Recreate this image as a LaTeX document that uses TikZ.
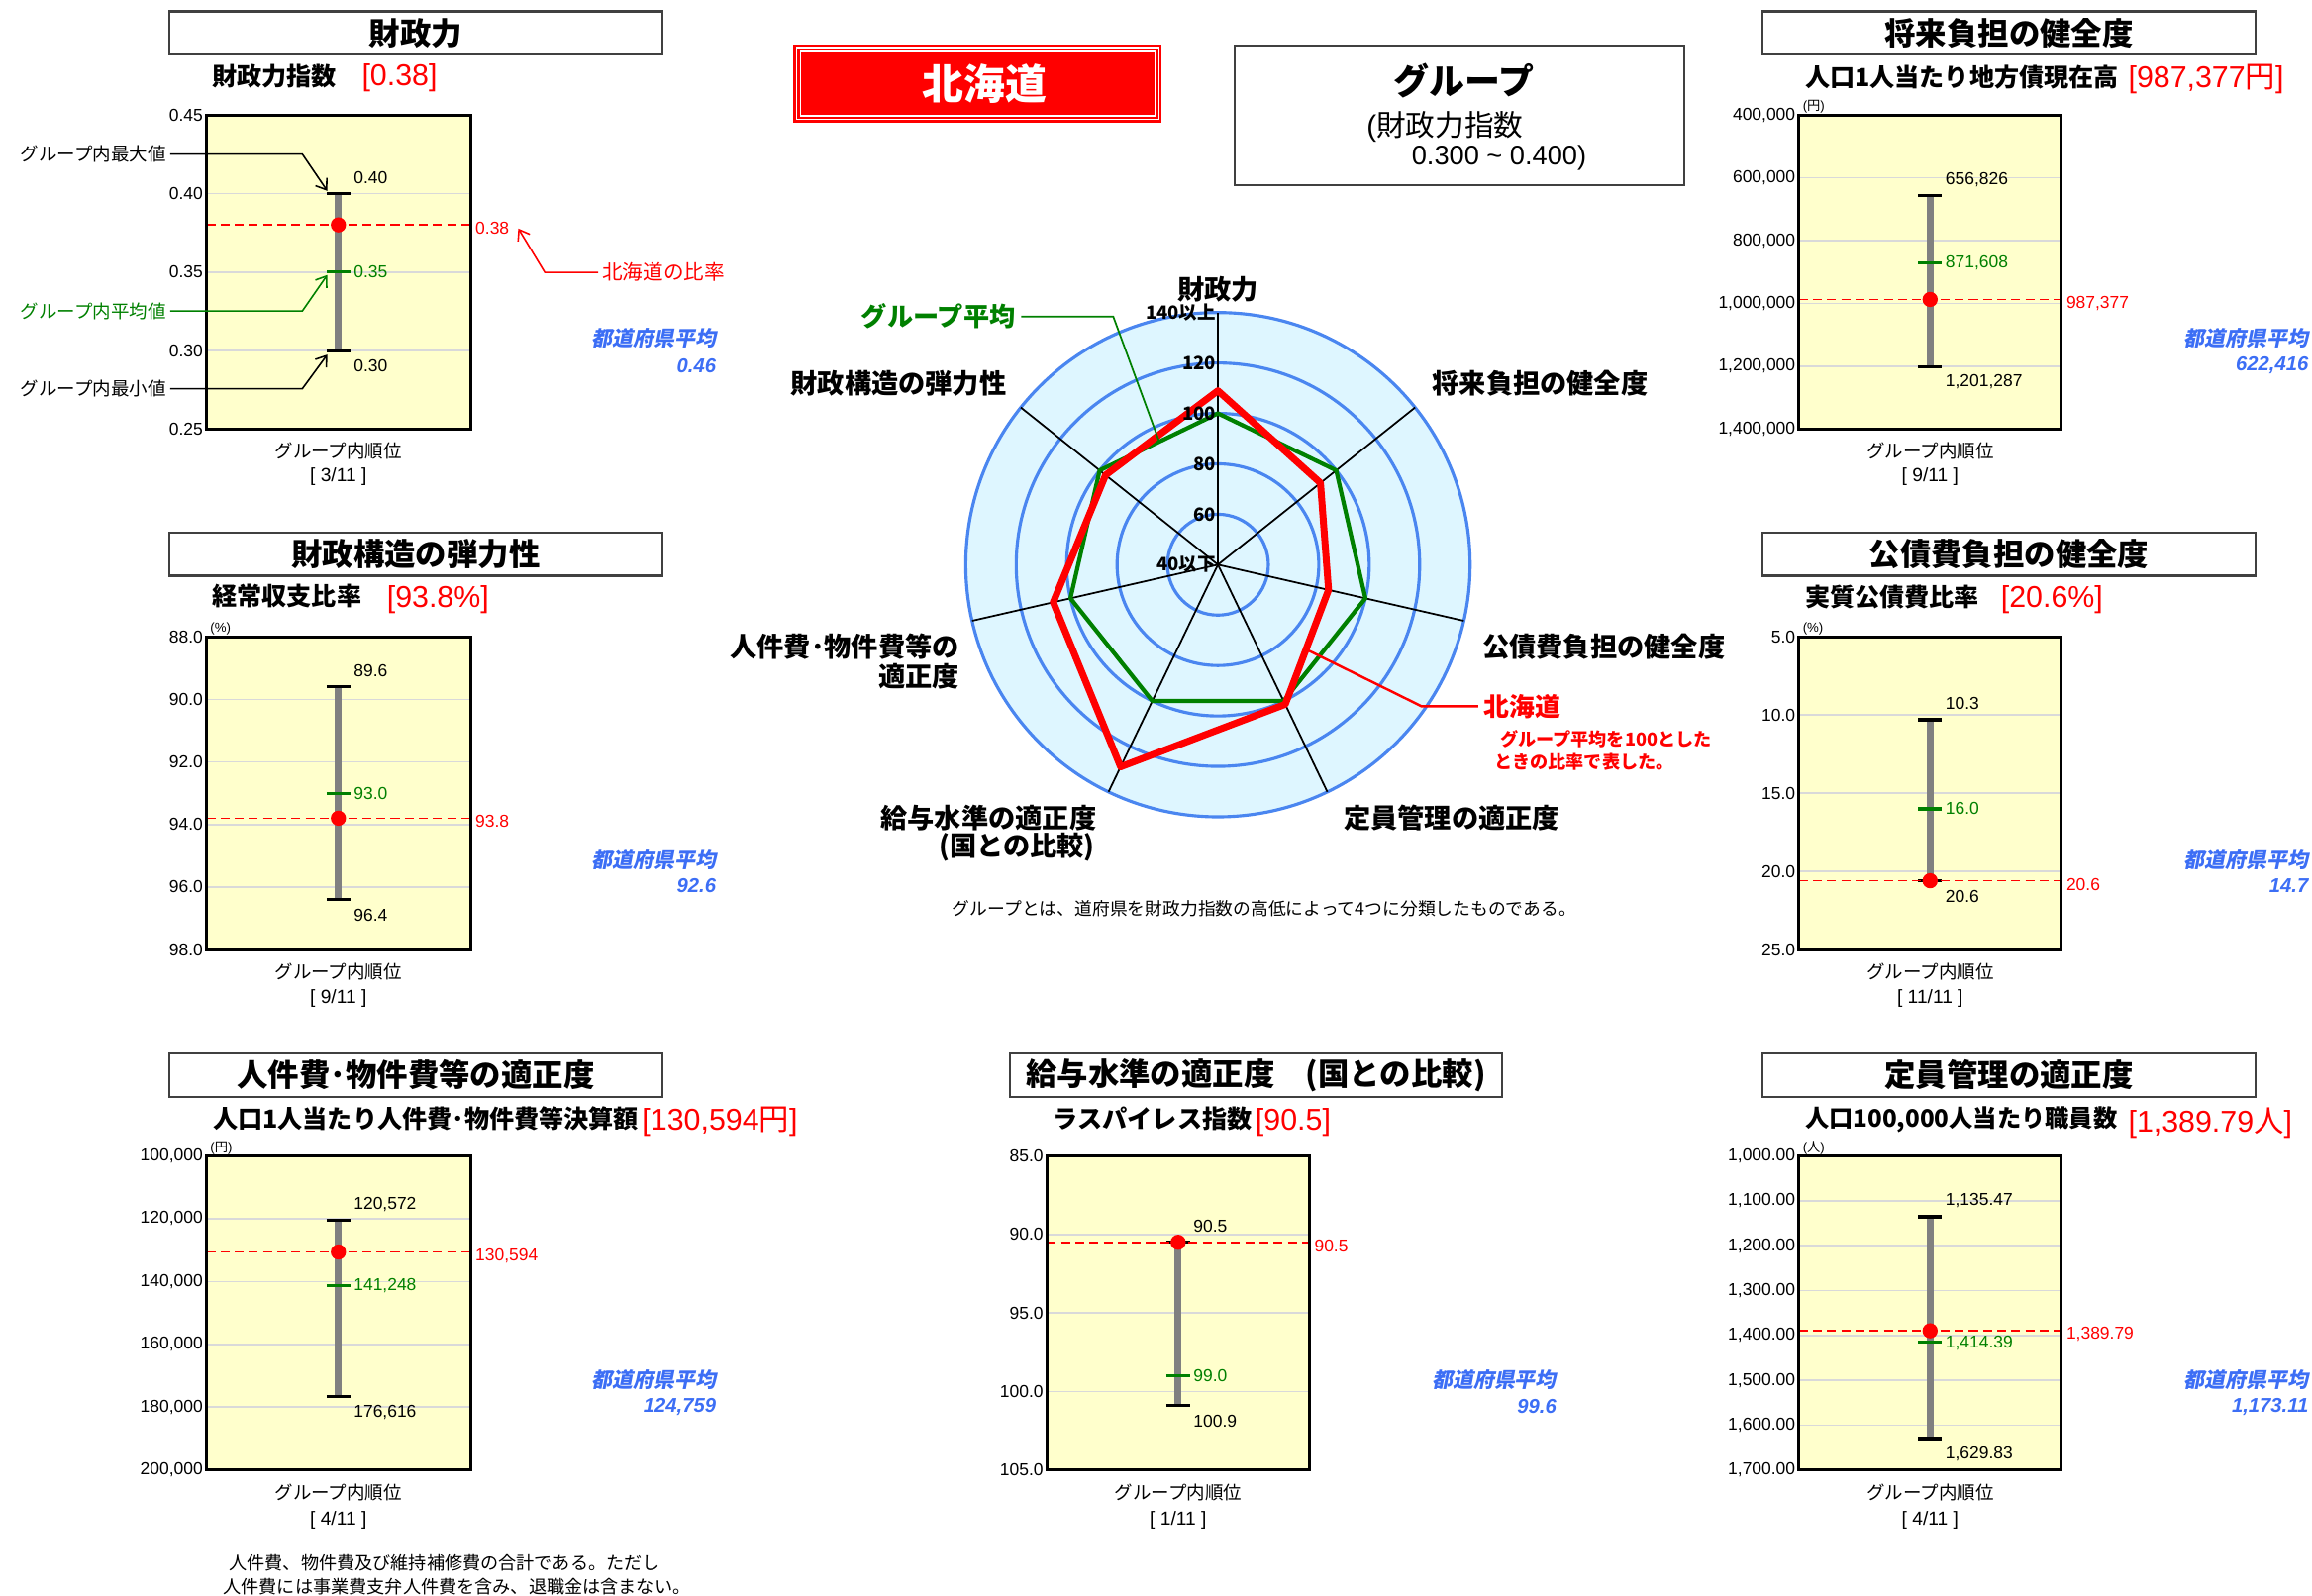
\documentclass[tikz,border=0pt]{standalone}
\usepackage{fontspec}
\setmainfont{Liberation Sans}
\newfontfamily\jp{Noto Sans CJK JP}
\newfontfamily\jpsl{Noto Sans CJK JP}[FakeSlant=0.2]
\usetikzlibrary{arrows.meta}
\definecolor{plotbg}{RGB}{255,255,204}
\definecolor{gridc}{RGB}{217,217,217}
\definecolor{barc}{RGB}{128,128,128}
\definecolor{avgc}{RGB}{0,128,0}
\definecolor{prefc}{RGB}{60,110,245}
\definecolor{radbg}{RGB}{222,246,255}
\definecolor{radc}{RGB}{74,134,240}
\begin{document}
\begin{tikzpicture}[x=0.015cm, y=-0.015cm,
    ttl/.style={draw=black!75, line width=0.6pt, minimum width=5.01cm, minimum height=0.44cm, inner sep=0pt, font=\jp\bfseries\fontsize{9}{10}\selectfont},
    sub/.style={anchor=west, inner sep=0pt, font=\jp\bfseries\fontsize{7.2}{8}\selectfont},
    val/.style={anchor=west, inner sep=0pt, text=red, font=\fontsize{8.7}{10}\selectfont},
    tick/.style={anchor=east, inner sep=0pt, font=\fontsize{5}{6}\selectfont},
    lab/.style={anchor=west, inner sep=0pt, font=\fontsize{5}{6}\selectfont},
    unit/.style={anchor=south west, inner sep=0.3pt, font=\fontsize{3.8}{4}\selectfont},
    pref/.style={anchor=east, inner sep=0pt, text=prefc, font=\jpsl\bfseries\fontsize{6}{7}\selectfont},
    prefn/.style={anchor=east, inner sep=0pt, text=prefc, font=\bfseries\itshape\fontsize{5.8}{7}\selectfont},
    rank/.style={inner sep=0pt, font=\jp\fontsize{5.3}{6}\selectfont},
    rankn/.style={inner sep=0pt, font=\fontsize{5.5}{6}\selectfont},
    note/.style={inner sep=0pt, font=\jp\fontsize{5.3}{6}\selectfont},
    gl/.style={draw=gridc, line width=0.45pt},
    frame/.style={draw=black, line width=0.85pt},
    bar/.style={draw=barc, line width=2pt},
    capl/.style={draw=black, line width=0.95pt},
    avgt/.style={draw=avgc, line width=0.95pt},
    rline/.style={draw=red, line width=0.45pt, dash pattern=on 2.6pt off 1.5pt},
    ptr/.style={line width=0.45pt, -{Straight Barb[length=2.8pt,width=4pt]}},
    radax/.style={draw=black, line width=0.5pt},
    radcirc/.style={draw=radc, line width=0.9pt},
    avgpoly/.style={draw=avgc, line width=1.2pt, line join=round},
    hokpoly/.style={draw=red, line width=2pt, line join=round},
    rlab/.style={inner sep=0pt, font=\jp\bfseries\fontsize{7.8}{9}\selectfont},
    rscale/.style={anchor=east, inner sep=0pt, font=\jp\bfseries\fontsize{5.3}{6}\selectfont}
  ]
  \useasboundingbox (0,0) rectangle (1568,1082);

  % ---- 財政力 ----
  \node[ttl] (t1) at (282,22.4) {財政力};
  \node[sub] (s1) at (143.5,52) {財政力指数};
  \node[val] (v1) at (245,52.5) {[0.38]};
  \fill[plotbg] (140,78) rectangle (319,291);
  \foreach \t [count=\i from 0] in {0.45,0.40,0.35,0.30,0.25} {
    \pgfmathsetmacro\yy{78+53.25*\i}
    \draw[gl] (140,\yy) -- (319,\yy);
    \node[tick] (k1\i) at (138,\yy) {\t};
  }
  \coordinate (hi1) at (229.5,131.25);
  \coordinate (lo1) at (229.5,237.75);
  \draw[bar] (hi1) -- (lo1);
  \draw[capl] (221.5,131.25) -- (237.5,131.25);
  \draw[capl] (221.5,237.75) -- (237.5,237.75);
  \draw[avgt] (221.5,184.5) -- (237.5,184.5);
  \draw[rline] (140,152.55) -- (319,152.55);
  \fill[red] (229.5,152.55) circle[radius=2.2pt];
  \draw[frame] (140,78) rectangle (319,291);
  \node[lab] (m1) at (239.5,120.3) {0.40};
  \node[lab, text=avgc] (a1) at (239.5,184.5) {0.35};
  \node[lab] (n1) at (239.5,248.3) {0.30};
  \node[lab, text=red] (r1) at (322,154.5) {0.38};
  \node[pref] (p1) at (486,229.5) {都道府県平均};
  \node[prefn] (q1) at (486,248) {0.46};
  \node[rank] (g1) at (229.5,305.6) {グループ内順位};
  \node[rankn] (o1) at (229.5,323.5) {[ 3/11 ]};
  % 見方
  \node[note, anchor=east] (x1) at (113,104.5) {グループ内最大値};
  \node[note, anchor=east, text=avgc] (x2) at (113,211) {グループ内平均値};
  \node[note, anchor=east] (x3) at (113,263.7) {グループ内最小値};
  \node[note, anchor=west, text=red, font=\jp\fontsize{5.9}{7}\selectfont] (x4) at (408,184.7) {北海道の比率};
  \coordinate (x1b) at (205,104.5);
  \coordinate (x1c) at (222,129.5);
  \coordinate (x2b) at (205,211);
  \coordinate (x2c) at (222,186.5);
  \coordinate (x3b) at (205,263.7);
  \coordinate (x3c) at (222,240.5);
  \coordinate (x4b) at (369.5,184.7);
  \coordinate (x4c) at (351.5,155);
  \draw[ptr] ([xshift=1pt]x1.east) -- (x1b) -- (x1c);
  \draw[ptr, avgc] ([xshift=1pt]x2.east) -- (x2b) -- (x2c);
  \draw[ptr] ([xshift=1pt]x3.east) -- (x3b) -- (x3c);
  \draw[ptr, red] ([xshift=-1pt]x4.west) -- (x4b) -- (x4c);

  % ---- 財政構造の弾力性 ----
  \node[ttl] (t2) at (282,375.8) {財政構造の弾力性};
  \node[sub] (s2) at (143.5,404.5) {経常収支比率};
  \node[val] (v2) at (262,406.5) {[93.8\%]};
  \fill[plotbg] (140,432) rectangle (319,644);
  \foreach \t [count=\i from 0] in {88.0,90.0,92.0,94.0,96.0,98.0} {
    \pgfmathsetmacro\yy{432+42.4*\i}
    \draw[gl] (140,\yy) -- (319,\yy);
    \node[tick] (k2\i) at (138,\yy) {\t};
  }
  \coordinate (hi2) at (229.5,465.92);
  \coordinate (lo2) at (229.5,610.08);
  \draw[bar] (hi2) -- (lo2);
  \draw[capl] (221.5,465.92) -- (237.5,465.92);
  \draw[capl] (221.5,610.08) -- (237.5,610.08);
  \draw[avgt] (221.5,538) -- (237.5,538);
  \draw[rline] (140,554.96) -- (319,554.96);
  \fill[red] (229.5,554.96) circle[radius=2.2pt];
  \draw[frame] (140,432) rectangle (319,644);
  \node[unit] (u2) at (141.5,432) {(\%)};
  \node[lab] (m2) at (239.5,455) {89.6};
  \node[lab, text=avgc] (a2) at (239.5,538) {93.0};
  \node[lab] (n2) at (239.5,620.6) {96.4};
  \node[lab, text=red] (r2) at (322,557.2) {93.8};
  \node[pref] (p2) at (486,583.2) {都道府県平均};
  \node[prefn] (q2) at (486,601) {92.6};
  \node[rank] (g2) at (229.5,659.3) {グループ内順位};
  \node[rankn] (o2) at (229.5,677.2) {[ 9/11 ]};

  % ---- 人件費・物件費等の適正度 ----
  \node[ttl] (t3) at (282,729.2) {人件費･物件費等の適正度};
  \node[sub] (s3) at (144,759) {人口1人当たり人件費･物件費等決算額};
  \node[val] (v3) at (435,761) {[130,594{\jp 円}]};
  \fill[plotbg] (140,784) rectangle (319,997);
  \foreach \t [count=\i from 0] in {{100,000},{120,000},{140,000},{160,000},{180,000},{200,000}} {
    \pgfmathsetmacro\yy{784+42.6*\i}
    \draw[gl] (140,\yy) -- (319,\yy);
    \node[tick] (k3\i) at (138,\yy) {\t};
  }
  \coordinate (hi3) at (229.5,827.82);
  \coordinate (lo3) at (229.5,947.19);
  \draw[bar] (hi3) -- (lo3);
  \draw[capl] (221.5,827.82) -- (237.5,827.82);
  \draw[capl] (221.5,947.19) -- (237.5,947.19);
  \draw[avgt] (221.5,871.86) -- (237.5,871.86);
  \draw[rline] (140,849.17) -- (319,849.17);
  \fill[red] (229.5,849.17) circle[radius=2.2pt];
  \draw[frame] (140,784) rectangle (319,997);
  \node[unit] (u3) at (141.5,784) {({\jp 円})};
  \node[lab] (m3) at (239.5,816.8) {120,572};
  \node[lab, text=avgc] (a3) at (239.5,871.9) {141,248};
  \node[lab] (n3) at (239.5,957.7) {176,616};
  \node[lab, text=red] (r3) at (322,851.5) {130,594};
  \node[pref] (p3) at (486,936) {都道府県平均};
  \node[prefn] (q3) at (486,954) {124,759};
  \node[rank] (g3) at (229.5,1012) {グループ内順位};
  \node[rankn] (o3) at (229.5,1031) {[ 4/11 ]};
  \node[note, anchor=west, font=\jp\fontsize{5.2}{6}\selectfont] (f1) at (155,1060) {人件費、物件費及び維持補修費の合計である。ただし};
  \node[note, anchor=west, font=\jp\fontsize{5.2}{6}\selectfont] (f2) at (151,1076) {人件費には事業費支弁人件費を含み、退職金は含まない。};

  % ---- 給与水準の適正度 ----
  \node[ttl] (t4) at (851.8,729.2) {給与水準の適正度　(国との比較)};
  \node[sub] (s4) at (714,759) {ラスパイレス指数};
  \node[val] (v4) at (851,761) {[90.5]};
  \fill[plotbg] (710,784) rectangle (888,997);
  \foreach \t [count=\i from 0] in {85.0,90.0,95.0,100.0,105.0} {
    \pgfmathsetmacro\yy{784+53.25*\i}
    \draw[gl] (710,\yy) -- (888,\yy);
    \node[tick] (k4\i) at (708,\yy) {\t};
  }
  \coordinate (hi4) at (799,842.58);
  \coordinate (lo4) at (799,953.34);
  \draw[bar] (hi4) -- (lo4);
  \draw[capl] (791,842.58) -- (807,842.58);
  \draw[capl] (791,953.34) -- (807,953.34);
  \draw[avgt] (791,933.1) -- (807,933.1);
  \draw[rline] (710,842.58) -- (888,842.58);
  \fill[red] (799,842.58) circle[radius=2.2pt];
  \draw[frame] (710,784) rectangle (888,997);
  \node[lab] (m4) at (809,831.6) {90.5};
  \node[lab, text=avgc] (a4) at (809,933.1) {99.0};
  \node[lab] (n4) at (809,963.8) {100.9};
  \node[lab, text=red] (r4) at (891,845.3) {90.5};
  \node[pref] (p4) at (1056,936) {都道府県平均};
  \node[prefn] (q4) at (1056,954) {99.6};
  \node[rank] (g4) at (799,1012) {グループ内順位};
  \node[rankn] (o4) at (799,1031) {[ 1/11 ]};

  % ---- 将来負担の健全度 ----
  \node[ttl] (t5) at (1362.5,22.4) {将来負担の健全度};
  \node[sub] (s5) at (1223.7,52.5) {人口1人当たり地方債現在高};
  \node[val] (v5) at (1443,53.5) {[987,377{\jp 円}]};
  \fill[plotbg] (1220,78) rectangle (1398,291);
  \foreach \t [count=\i from 0] in {{400,000},{600,000},{800,000},{1,000,000},{1,200,000},{1,400,000}} {
    \pgfmathsetmacro\yy{78+42.6*\i}
    \draw[gl] (1220,\yy) -- (1398,\yy);
    \node[tick] (k5\i) at (1218,\yy) {\t};
  }
  \coordinate (hi5) at (1309,132.7);
  \coordinate (lo5) at (1309,248.67);
  \draw[bar] (hi5) -- (lo5);
  \draw[capl] (1301,132.7) -- (1317,132.7);
  \draw[capl] (1301,248.67) -- (1317,248.67);
  \draw[avgt] (1301,178.45) -- (1317,178.45);
  \draw[rline] (1220,203.11) -- (1398,203.11);
  \fill[red] (1309,203.11) circle[radius=2.2pt];
  \draw[frame] (1220,78) rectangle (1398,291);
  \node[unit] (u5) at (1221.5,78) {({\jp 円})};
  \node[lab] (m5) at (1319,121.7) {656,826};
  \node[lab, text=avgc] (a5) at (1319,178.45) {871,608};
  \node[lab] (n5) at (1319,259.2) {1,201,287};
  \node[lab, text=red] (r5) at (1401,205.6) {987,377};
  \node[pref] (p5) at (1566,229.5) {都道府県平均};
  \node[prefn] (q5) at (1566,248) {622,416};
  \node[rank] (g5) at (1309,305.6) {グループ内順位};
  \node[rankn] (o5) at (1309,323.5) {[ 9/11 ]};

  % ---- 公債費負担の健全度 ----
  \node[ttl] (t6) at (1362.5,375.8) {公債費負担の健全度};
  \node[sub] (s6) at (1223.7,405) {実質公債費比率};
  \node[val] (v6) at (1356.6,407) {[20.6\%]};
  \fill[plotbg] (1220,432) rectangle (1398,644);
  \foreach \t [count=\i from 0] in {5.0,10.0,15.0,20.0,25.0} {
    \pgfmathsetmacro\yy{432+53*\i}
    \draw[gl] (1220,\yy) -- (1398,\yy);
    \node[tick] (k6\i) at (1218,\yy) {\t};
  }
  \coordinate (hi6) at (1309,488.18);
  \coordinate (lo6) at (1309,597.36);
  \draw[bar] (hi6) -- (lo6);
  \draw[capl] (1301,488.18) -- (1317,488.18);
  \draw[capl] (1301,597.36) -- (1317,597.36);
  \draw[avgt] (1301,548.6) -- (1317,548.6);
  \draw[rline] (1220,597.36) -- (1398,597.36);
  \fill[red] (1309,597.36) circle[radius=2.2pt];
  \draw[frame] (1220,432) rectangle (1398,644);
  \node[unit] (u6) at (1221.5,432) {(\%)};
  \node[lab] (m6) at (1319,477.2) {10.3};
  \node[lab, text=avgc] (a6) at (1319,548.6) {16.0};
  \node[lab] (n6) at (1319,607.9) {20.6};
  \node[lab, text=red] (r6) at (1401,599.9) {20.6};
  \node[pref] (p6) at (1566,583.2) {都道府県平均};
  \node[prefn] (q6) at (1566,601) {14.7};
  \node[rank] (g6) at (1309,659.3) {グループ内順位};
  \node[rankn] (o6) at (1309,677.2) {[ 11/11 ]};

  % ---- 定員管理の適正度 ----
  \node[ttl] (t7) at (1362.5,729.2) {定員管理の適正度};
  \node[sub, font=\jp\bfseries\fontsize{6.95}{8}\selectfont] (s7) at (1223.7,759.5) {人口100,000人当たり職員数};
  \node[val] (v7) at (1443,761.5) {[1,389.79{\jp 人}]};
  \fill[plotbg] (1220,784) rectangle (1398,997);
  \foreach \t [count=\i from 0] in {{1,000.00},{1,100.00},{1,200.00},{1,300.00},{1,400.00},{1,500.00},{1,600.00},{1,700.00}} {
    \pgfmathsetmacro\yy{784+30.4286*\i}
    \draw[gl] (1220,\yy) -- (1398,\yy);
    \node[tick] (k7\i) at (1218,\yy) {\t};
  }
  \coordinate (hi7) at (1309,825.22);
  \coordinate (lo7) at (1309,975.65);
  \draw[bar] (hi7) -- (lo7);
  \draw[capl] (1301,825.22) -- (1317,825.22);
  \draw[capl] (1301,975.65) -- (1317,975.65);
  \draw[avgt] (1301,910.09) -- (1317,910.09);
  \draw[rline] (1220,902.61) -- (1398,902.61);
  \fill[red] (1309,902.61) circle[radius=2.2pt];
  \draw[frame] (1220,784) rectangle (1398,997);
  \node[unit] (u7) at (1221.5,784) {({\jp 人})};
  \node[lab] (m7) at (1319,814.2) {1,135.47};
  \node[lab, text=avgc] (a7) at (1319,910.6) {1,414.39};
  \node[lab] (n7) at (1319,986.2) {1,629.83};
  \node[lab, text=red] (r7) at (1401,905.1) {1,389.79};
  \node[pref] (p7) at (1566,936) {都道府県平均};
  \node[prefn] (q7) at (1566,954) {1,173.11};
  \node[rank] (g7) at (1309,1012) {グループ内順位};
  \node[rankn] (o7) at (1309,1031) {[ 4/11 ]};

  % ---- 見出し ----
  \node[fill=red, text=white, minimum width=3.75cm, minimum height=0.795cm, inner sep=0pt,
        font=\jp\bfseries\fontsize{12}{14}\selectfont] (hk) at (663,56.7) {\hspace*{4pt}北海道};
  \draw[white, line width=0.35pt] ([xshift=1.1pt,yshift=-1.1pt]hk.north west) rectangle ([xshift=-1.1pt,yshift=1.1pt]hk.south east);
  \draw[white, line width=0.35pt] ([xshift=2.2pt,yshift=-2.2pt]hk.north west) rectangle ([xshift=-2.2pt,yshift=2.2pt]hk.south east);
  \node[draw=black!75, line width=0.6pt, minimum width=4.57cm, minimum height=1.418cm, inner sep=0pt] (gb) at (989.9,78.1) {};
  \node[inner sep=0pt, font=\jp\bfseries\fontsize{10.3}{12}\selectfont] (gt) at (993,55) {グループ};
  \node[anchor=west, inner sep=0pt, font=\fontsize{8.5}{10}\selectfont] (gr1) at (926.5,86) {({\jp 財政力指数}};
  \node[anchor=west, inner sep=0pt, font=\fontsize{7.8}{9}\selectfont] (gr2) at (957,107.4) {0.300 \textasciitilde{} 0.400)};

  % ---- レーダー ----
  \coordinate (rc) at (826,383);
  \begin{scope}[shift={(rc)}, x=0.02565cm, y=0.02565cm]
    \fill[radbg] (0,0) circle[radius=100];
    \foreach \r in {20,40,60,80,100}
      \draw[radcirc] (0,0) circle[radius=\r];
    \foreach \a in {0,...,6}
      \draw[radax] (0,0) -- ({90-\a*360/7}:100);
    \draw[avgpoly] (90:60) -- (38.571:60) -- (-12.857:60) -- (-64.286:60) -- (-115.714:60) -- (-167.143:60) -- (141.429:60) -- cycle;
    \coordinate (h1) at (90:69);
    \coordinate (h2) at (38.571:52);
    \coordinate (h3) at (-12.857:45);
    \coordinate (h4) at (-64.286:61.5);
    \coordinate (h5) at (-115.714:89);
    \coordinate (h6) at (-167.143:67);
    \coordinate (h7) at (141.429:57);
    \draw[hokpoly] (h1) -- (h2) -- (h3) -- (h4) -- (h5) -- (h6) -- (h7) -- cycle;
    \foreach \v/\t in {0/40以下, 20/60, 40/80, 60/100, 80/120, 100/140以上}
      \node[rscale] (sc\v) at ([xshift=-0.4pt]0,\v) {\t};
  \end{scope}
  \node[rlab] (ax1) at (826,196) {財政力};
  \node[rlab, anchor=west] (ax2) at (971,260) {将来負担の健全度};
  \node[rlab, anchor=west] (ax3) at (1005,438.5) {公債費負担の健全度};
  \node[rlab, anchor=west] (ax4) at (911,555) {定員管理の適正度};
  \node[rlab, anchor=east] (ax5) at (744,555) {給与水準の適正度};
  \node[rlab, anchor=east] (ax5b) at (743,574.5) {(国との比較)};
  \node[rlab, anchor=east] (ax6) at (651,438.5) {人件費･物件費等の};
  \node[rlab, anchor=east] (ax6b) at (651,458.5) {適正度};
  \node[rlab, anchor=east] (ax7) at (683,260) {財政構造の弾力性};
  \node[rlab, anchor=east, text=avgc, font=\jp\bfseries\fontsize{7.5}{9}\selectfont] (lg1) at (689,214.7) {グループ平均};
  \coordinate (lg1b) at (755,214.7);
  \coordinate (lg1c) at (786,299);
  \draw[avgc, line width=0.5pt] ([xshift=1.5pt]lg1.east) -- (lg1b) -- (lg1c);
  \node[rlab, anchor=west, text=red, font=\jp\bfseries\fontsize{7.4}{9}\selectfont] (lg2) at (1006,479) {北海道};
  \coordinate (lg2b) at (964,479);
  \coordinate (lg2c) at (887,441);
  \draw[red, line width=0.7pt] ([xshift=-1.5pt]lg2.west) -- (lg2b) -- (lg2c);
  \node[anchor=west, inner sep=0pt, text=red, font=\jp\bfseries\fontsize{5.2}{6}\selectfont] (lg3) at (1017,501) {グループ平均を100とした};
  \node[anchor=west, inner sep=0pt, text=red, font=\jp\bfseries\fontsize{5.2}{6}\selectfont] (lg4) at (1013,516.5) {ときの比率で表した。};
  \node[inner sep=0pt, font=\jp\fontsize{5.1}{6}\selectfont] (cpt) at (857.5,616.5) {グループとは、道府県を財政力指数の高低によって4つに分類したものである。};
\end{tikzpicture}
\end{document}
